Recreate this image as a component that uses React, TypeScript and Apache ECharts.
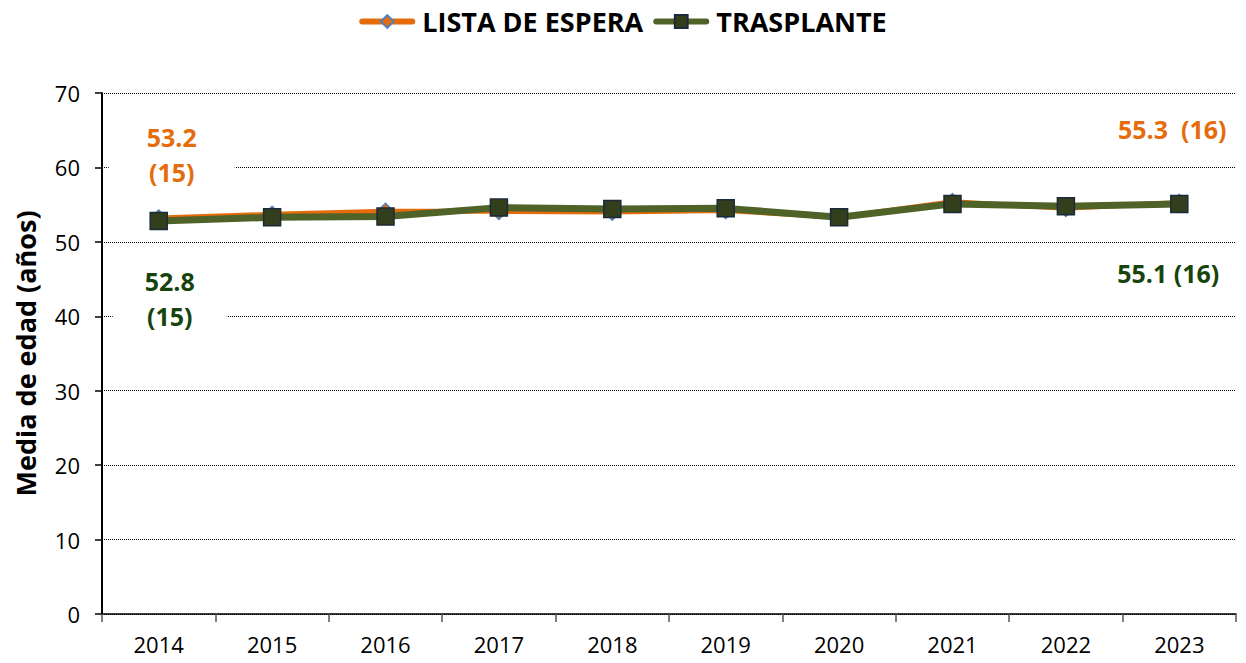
import React, { useEffect, useRef } from "react";
import * as echarts from "echarts";

const years = ["2014", "2015", "2016", "2017", "2018", "2019", "2020", "2021", "2022", "2023"];
const listaEspera = [53.2, 53.7, 54.1, 54.1, 54.0, 54.2, 53.3, 55.4, 54.5, 55.3];
const trasplante = [52.8, 53.3, 53.4, 54.6, 54.4, 54.5, 53.3, 55.1, 54.8, 55.1];
const listaLabels = ["53.2\n(15)", "55.3  (16)"];
const trasplanteLabels = ["52.8\n(15)", "55.1 (16)"];

const ORANGE = "#E46C0A";
const OLIVE = "#4F6228";
const DARKGREEN = "#17440C";
const FONT = "'Open Sans', sans-serif";

export default function App() {
  const ref = useRef<HTMLDivElement>(null);
  useEffect(() => {
    if (!ref.current) return;
    const chart = echarts.init(ref.current, null, { renderer: "svg" });
    const last = years.length - 1;
    const lbl = {
      fontSize: 25,
      fontWeight: "bold",
      fontFamily: FONT,
      backgroundColor: "#fff",
    };
    const listaData = listaEspera.map((v, i) => {
      if (i === 0)
        return {
          value: v,
          label: {
            ...lbl,
            show: true,
            formatter: listaLabels[0],
            position: "top",
            distance: 20,
            offset: [13, 0],
            color: ORANGE,
            lineHeight: 35,
            padding: [0, 38, 0, 38],
          },
        };
      if (i === last)
        return {
          value: v,
          label: {
            ...lbl,
            show: true,
            formatter: listaLabels[1],
            position: "top",
            distance: 52,
            offset: [-7, 0],
            color: ORANGE,
          },
        };
      return v;
    });
    const trasData = trasplante.map((v, i) => {
      if (i === 0)
        return {
          value: v,
          label: {
            ...lbl,
            show: true,
            formatter: trasplanteLabels[0],
            position: "bottom",
            distance: 33,
            offset: [11, 0],
            color: DARKGREEN,
            lineHeight: 35,
            padding: [0, 32, 0, 32],
          },
        };
      if (i === last)
        return {
          value: v,
          label: {
            ...lbl,
            show: true,
            formatter: trasplanteLabels[1],
            position: "bottom",
            distance: 47,
            offset: [-11, 0],
            color: DARKGREEN,
          },
        };
      return v;
    });
    chart.setOption({
      animation: false,
      backgroundColor: "#fff",
      legend: {
        top: 3,
        left: "center",
        itemWidth: 50,
        itemHeight: 16,
        itemGap: 10,
        lineStyle: { width: 6, cap: "round" },
        textStyle: { fontSize: 27, fontWeight: "bold", fontFamily: FONT, color: "#000", padding: [0, 0, 0, 5] },
        data: ["LISTA DE ESPERA", "TRASPLANTE"],
      },
      grid: { left: 102, right: 10, top: 93, bottom: 49, containLabel: false, outerBoundsMode: "none" },
      xAxis: {
        type: "category",
        data: years,
        boundaryGap: true,
        axisLine: { lineStyle: { color: "#000", width: 1.5 } },
        axisTick: { show: true, alignWithLabel: false, length: 8, lineStyle: { color: "#555", width: 1.5 } },
        axisLabel: { fontSize: 22, fontFamily: FONT, color: "#000", margin: 19 },
        splitLine: { show: false },
      },
      yAxis: {
        type: "value",
        min: 0,
        max: 70,
        interval: 10,
        name: "Media de edad (años)",
        nameLocation: "middle",
        nameGap: 63,
        nameTextStyle: { fontSize: 27, fontWeight: "bold", fontFamily: FONT, color: "#000" },
        axisLine: { show: true, lineStyle: { color: "#000", width: 2 } },
        axisTick: { show: true, length: 7, lineStyle: { color: "#000", width: 1.5 } },
        axisLabel: { fontSize: 22, fontFamily: FONT, color: "#000", margin: 22 },
        splitLine: { show: true, lineStyle: { color: "#000", type: [1, 1], width: 1 } },
      },
      series: [
        {
          name: "LISTA DE ESPERA",
          type: "line",
          data: listaData,
          z: 2,
          symbol: "diamond",
          symbolSize: 16,
          lineStyle: { color: ORANGE, width: 5 },
          itemStyle: { color: ORANGE, borderColor: "#4F81BD", borderWidth: 1.5 },
        },
        {
          name: "TRASPLANTE",
          type: "line",
          data: trasData,
          z: 3,
          symbol: "rect",
          symbolSize: 17,
          lineStyle: { color: OLIVE, width: 7 },
          itemStyle: { color: "#333F1C", borderColor: "#1B2A3A", borderWidth: 1.5 },
        },
      ],
    });
    return () => chart.dispose();
  }, []);
  return <div ref={ref} style={{ width: 1246, height: 663, position: "absolute", left: 0, top: 0 }} />;
}
